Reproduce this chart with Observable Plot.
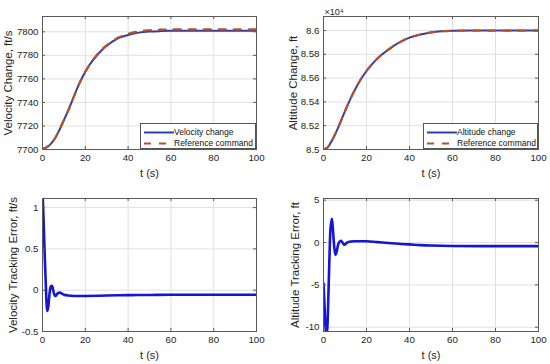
<!DOCTYPE html>
<html><head><meta charset="utf-8">
<script src="https://cdn.jsdelivr.net/npm/d3@7"></script>
<script src="https://cdn.jsdelivr.net/npm/@observablehq/plot@0.6"></script>
<style>
body{margin:0;background:#fff;}
#root{position:relative;width:550px;height:364px;font-family:"Liberation Sans",Arial,Helvetica,sans-serif;}
.panel{position:absolute;width:275px;height:182px;}
.legend{position:absolute;background:#fff;border:1px solid #555;box-sizing:border-box;font-size:8.5px;color:#111;}
.legend .row{position:absolute;left:0;height:11px;line-height:11px;white-space:nowrap;}
.legend svg{position:absolute;left:2px;top:0;}
.legend span{position:absolute;}
</style></head><body><div id="root"></div>
<script>
// ---- data ----
const xTicks = [0, 20, 40, 60, 80, 100];

const tVel = [0, 2, 4, 6, 8, 10, 12, 14, 16, 18, 20, 22, 25, 28, 30, 33, 36, 40, 45, 50, 55, 60, 70, 80, 90, 100];
const velChange = [7700.5, 7702, 7705, 7710, 7717, 7725, 7733, 7742, 7751, 7759, 7766, 7772, 7779, 7785, 7788, 7792, 7795, 7797.3, 7799.3, 7800.2, 7800.6, 7800.8, 7800.8, 7800.8, 7800.8, 7800.8];
const velRef = [7700, 7701.8, 7705, 7710, 7717, 7725, 7733, 7742, 7751, 7759, 7766, 7772, 7779.5, 7785.5, 7788.5, 7792.5, 7795.5, 7798.3, 7800.4, 7801.3, 7801.8, 7802, 7802, 7802, 7802, 7802];
const velTicks = [7700, 7720, 7740, 7760, 7780, 7800];

const tAlt = [0, 2, 4, 6, 8, 10, 12, 14, 16, 18, 20, 22, 24, 26, 28, 30, 33, 36, 40, 45, 50, 55, 60, 70, 80, 90, 100];
const altChange = [85000, 85020, 85078, 85150, 85235, 85322, 85405, 85480, 85548, 85608, 85660, 85705, 85745, 85780, 85810, 85836, 85875, 85906, 85940, 85966, 85984, 85994, 85999, 86001, 86001, 86001, 86001];
const altRef = [85000, 85019, 85077, 85150, 85236, 85323, 85406, 85481, 85549, 85609, 85661, 85706, 85746, 85781, 85811, 85837, 85876, 85907, 85941, 85967, 85984, 85994, 85998, 86000, 86000, 86000, 86000];
const altTicks = [85000, 85200, 85400, 85600, 85800, 86000];

const tVelErr = [0, 0.5, 1, 1.5, 2, 2.3, 2.7, 3, 3.5, 4, 4.5, 5, 5.5, 6, 6.5, 7, 8, 9, 10, 12, 15, 20, 30, 40, 50, 60, 80, 100];
const velErr = [1.2, 0.85, 0.45, 0.1, -0.2, -0.25, -0.2, -0.12, 0.0, 0.05, 0.05, 0.0, -0.05, -0.07, -0.06, -0.04, -0.03, -0.04, -0.055, -0.065, -0.07, -0.07, -0.065, -0.06, -0.058, -0.055, -0.055, -0.055];
const velErrTicks = [-0.5, 0, 0.5, 1];

const tAltErr = [0, 0.5, 1, 1.4, 1.8, 2.3, 2.8, 3.3, 3.9, 4.4, 5, 5.6, 6.2, 7, 8, 8.6, 9.5, 10.3, 11, 12, 15, 20, 25, 30, 35, 40, 45, 50, 60, 80, 100];
const altErr = [-4.8, -7.5, -10.2, -11, -10, -6, -1.5, 1.8, 2.8, 1.5, -0.5, -1.45, -1.0, -0.1, 0.2, 0.1, -0.25, -0.15, 0.0, 0.1, 0.15, 0.15, 0.05, -0.05, -0.15, -0.22, -0.3, -0.35, -0.4, -0.42, -0.42];
const altErrTicks = [-10, -5, 0, 5];

const legendVel = ["Velocity change", "Reference command"];
const legendAlt = ["Altitude change", "Reference command"];

// ---- styles ----
const FONT = '"Liberation Sans", Arial, Helvetica, sans-serif';
const FRAME = "#5a5a5a";
const GRID = "#e0e0e0";
const BLUE_TOP = "#2e40a6";
const RED = "#b84f2c";
const BLUE_ERR = "#1515d6";
const TXT = "#262626";

const root = document.getElementById("root");

function panel(o) {
  const W = 275, H = 182, mt = 16, mb = 33;
  const iw = W - o.ml - o.mr, ih = H - mt - mb;
  const marks = [
    Plot.ruleX(xTicks, {x: d => d, stroke: GRID}),
    Plot.ruleY(o.yTicks, {y: d => d, stroke: GRID}),
    ...o.lines,
    Plot.ruleX(xTicks, {x: d => d, stroke: FRAME, insetTop: ih - 3}),
    Plot.ruleX(xTicks, {x: d => d, stroke: FRAME, insetBottom: ih - 3}),
    Plot.ruleY(o.yTicks, {y: d => d, stroke: FRAME, insetRight: iw - 3}),
    Plot.ruleY(o.yTicks, {y: d => d, stroke: FRAME, insetLeft: iw - 3}),
    Plot.frame({stroke: FRAME, strokeWidth: 1}),
    Plot.text(["t (s)"], {frameAnchor: "bottom", dy: 24, lineAnchor: "middle", fontSize: 11, fontWeight: "normal", fill: TXT}),
    Plot.text([o.yLabel], {frameAnchor: "left", dx: o.labelDx, rotate: -90, lineAnchor: "middle", textAnchor: "middle", fontSize: 11.5, fontWeight: "normal", fill: TXT})
  ];
  if (o.exponent) marks.push(Plot.text([o.exponent], {frameAnchor: "top-left", dy: -4.5, dx: 1, textAnchor: "start", lineAnchor: "middle", fontSize: 9, fill: TXT}));
  const chart = Plot.plot({
    width: W, height: H,
    marginLeft: o.ml, marginRight: o.mr, marginTop: mt, marginBottom: mb,
    style: {fontFamily: FONT, fontSize: "9.7px", color: TXT, background: "transparent", overflow: "visible"},
    x: {domain: [0, 100], ticks: xTicks, tickSize: 0, tickPadding: 4.5, tickFormat: d => String(d), label: null},
    y: {domain: o.yDomain, ticks: o.yTicks, tickSize: 0, tickPadding: 4, tickFormat: o.yFmt || (d => String(d)), label: null},
    marks
  });
  const div = document.createElement("div");
  div.className = "panel";
  div.style.left = o.left + "px";
  div.style.top = o.top + "px";
  div.appendChild(chart);
  root.appendChild(div);
}

function zipT(t, v) { return t.map((x, i) => ({t: x, v: v[i]})); }

function topLines(t, a, b) {
  return [
    Plot.line(zipT(t, a), {x: "t", y: "v", stroke: BLUE_TOP, strokeWidth: 2, curve: "catmull-rom", clip: true}),
    Plot.line(zipT(t, b), {x: "t", y: "v", stroke: RED, strokeWidth: 2.2, strokeDasharray: "7,8", curve: "catmull-rom", clip: true})
  ];
}

panel({left: 0, top: 0, ml: 42, mr: 19, yDomain: [7700, 7813], yTicks: velTicks,
  lines: topLines(tVel, velChange, velRef), yLabel: "Velocity Change, ft/s", labelDx: -34.5});
panel({left: 275, top: 0, ml: 48, mr: 12, yDomain: [85000, 86118], yTicks: altTicks,
  yFmt: d => String(+(d / 1e4).toFixed(2)),
  lines: topLines(tAlt, altChange, altRef), yLabel: "Altitude Change, ft", labelDx: -30, exponent: "×10⁴"});
panel({left: 0, top: 182, ml: 42, mr: 19, yDomain: [-0.5, 1.11], yTicks: velErrTicks,
  lines: [Plot.line(zipT(tVelErr, velErr), {x: "t", y: "v", stroke: BLUE_ERR, strokeWidth: 2.6, curve: "catmull-rom", clip: true})],
  yLabel: "Velocity Tracking Error, ft/s", labelDx: -29.3});
panel({left: 275, top: 182, ml: 48, mr: 12, yDomain: [-10.5, 5.2], yTicks: altErrTicks,
  lines: [Plot.line(zipT(tAltErr, altErr), {x: "t", y: "v", stroke: BLUE_ERR, strokeWidth: 2.6, curve: "catmull-rom", clip: true})],
  yLabel: "Altitude Tracking Error, ft", labelDx: -28});

function legend(left, top, width, labels, textLeft) {
  const lg = document.createElement("div");
  lg.className = "legend";
  Object.assign(lg.style, {left: left + "px", top: top + "px", width: width + "px", height: "26px"});
  const styles = [{stroke: BLUE_TOP, dash: null, w: 2}, {stroke: RED, dash: "7,8", w: 2.2}];
  labels.forEach((lab, i) => {
    const row = document.createElement("div");
    row.className = "row";
    row.style.top = (2.5 + i * 11) + "px";
    row.style.width = width + "px";
    const s = styles[i];
    row.innerHTML = `<svg width="32" height="11"><line x1="1" x2="31" y1="5.5" y2="5.5" stroke="${s.stroke}" stroke-width="${s.w}" ${s.dash ? `stroke-dasharray="${s.dash}"` : ""}/></svg>`;
    const sp = document.createElement("span");
    sp.style.left = textLeft + "px";
    sp.textContent = lab;
    row.appendChild(sp);
    lg.appendChild(row);
  });
  root.appendChild(lg);
}
legend(140, 123, 116, legendVel, 33);
legend(423, 123, 115, legendAlt, 33);
</script>
</body></html>
